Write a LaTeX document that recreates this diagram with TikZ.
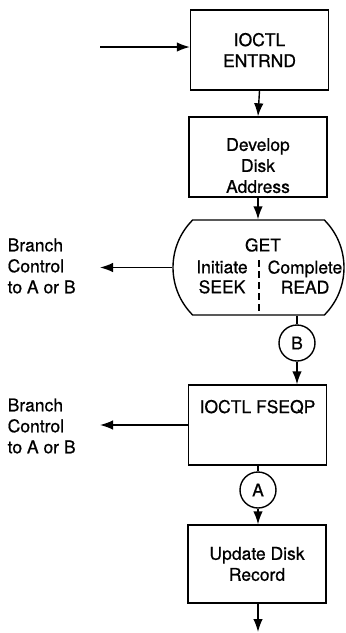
\documentclass[tikz,border=0pt]{standalone}
\usepackage{fontspec}
\setmainfont{TeX Gyre Heros}[FakeBold=0.7]
\usetikzlibrary{shapes.misc,arrows.meta}
\tikzset{
	flowbox/.style={draw=black, rectangle, minimum width=138pt, minimum height=80pt, inner sep=0pt, align=center},
	terminal/.style={draw=black, rounded rectangle, rounded rectangle arc length=90, minimum width=171pt, minimum height=95pt, inner sep=0pt},
	offpage/.style={draw=black, circle, minimum size=36pt, inner sep=0pt},
	plaintext/.style={inner sep=0pt, align=center},
	branchtext/.style={inner sep=0pt, align=left, anchor=west},
	flow/.style={draw=black, -{Latex[length=13pt,width=9.5pt]}, solid},
}
\begin{document}
\begin{tikzpicture}[x=1pt, y=-1pt, line width=1.4pt, font=\fontsize{17.5}{21}\selectfont]
		\useasboundingbox (0,0) rectangle (346,633);
		% main column
		\node[flowbox] (entrnd) at (259.5,50) {IOCTL\\ENTRND};
		\node[flowbox] (develop) at (258,157) {\rule{0pt}{30pt}Develop\\Disk\\Address};
		\node[terminal] (get) at (258.5,267.5) {};
		\node[plaintext] (gettitle) at (263,245) {GET};
		\node[plaintext, font=\fontsize{17.5}{20}\selectfont] (seek) at (222,277) {Initiate\\SEEK};
		\node[plaintext, font=\fontsize{17.5}{20}\selectfont] (read) at (305,277) {Complete\\READ};
		\draw[draw=black, dash pattern=on 7pt off 4pt] (259,260) -- (259,313);
		\node[offpage] (conB) at (297,343) {B};
		\node[flowbox, align=none, text height=12pt, text depth=36pt] (fseqp) at (257.5,425) {IOCTL FSEQP};
		\node[offpage] (conA) at (258,490) {A};
		\node[flowbox, minimum height=78pt] (update) at (257,564) {Update Disk\\Record};
		% branch texts
		\node[branchtext] (branchA) at (7,266) {Branch\\Control\\to A or B};
		\node[branchtext] (branchB) at (7,426) {Branch\\Control\\to A or B};
		% free ends
		\coordinate (entry) at (100,47);
		\coordinate (outA) at (100,267.5);
		\coordinate (outB) at (100,425);
		\coordinate (exit) at (258,632);
		% connectors
		\draw[flow] (entry) -- (entry -| entrnd.west);
		\draw[flow] (entrnd.south) -- (develop.north);
		\draw[flow] (develop.south) -- (get.north -| develop.south);
		\draw[flow] (get.west) -- (outA);
		\draw[draw=black] (get.south -| conB) -- (conB.north);
		\draw[flow] (conB.south) -- (fseqp.north -| conB);
		\draw[flow] (fseqp.west) -- (outB);
		\draw[draw=black] (fseqp.south -| conA) -- (conA.north);
		\draw[flow] (conA.south) -- (update.north -| conA);
		\draw[flow] (update.south -| exit) -- (exit);
\end{tikzpicture}
\end{document}
